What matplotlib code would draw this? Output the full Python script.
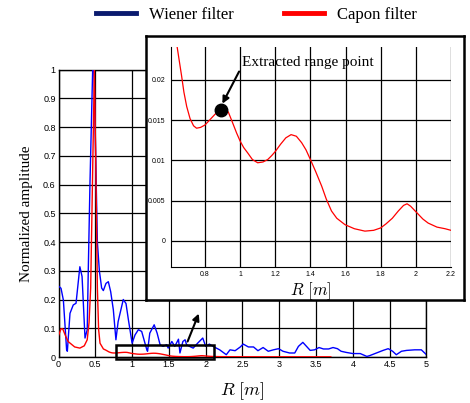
import matplotlib
matplotlib.use("Agg")
import matplotlib.pyplot as plt
from matplotlib.lines import Line2D
from matplotlib.patches import Rectangle

plt.rcParams['mathtext.fontset'] = 'cm'

# Wiener filter (blue)
wiener_r = [0, 0.034, 0.066, 0.11, 0.12, 0.156, 0.2, 0.238, 0.29, 0.32, 0.36, 0.39,
            0.405, 0.428, 0.464, 0.482, 0.505, 0.528, 0.555, 0.586, 0.609, 0.645, 0.677,
            0.709, 0.745, 0.78, 0.81, 0.88, 0.917, 0.95, 1.0, 1.04, 1.085, 1.13, 1.2,
            1.21, 1.24, 1.3, 1.34, 1.38, 1.42, 1.47, 1.49, 1.54, 1.58, 1.63, 1.65, 1.69,
            1.72, 1.74, 1.78, 1.83, 1.89, 1.96, 2.0, 2.05, 2.1, 2.19, 2.28, 2.33, 2.4,
            2.47, 2.51, 2.58, 2.65, 2.71, 2.78, 2.85, 2.92, 2.99, 3.05, 3.14, 3.21, 3.26,
            3.32, 3.37, 3.42, 3.48, 3.54, 3.6, 3.67, 3.73, 3.79, 3.84, 3.91, 4.0, 4.1,
            4.19, 4.23, 4.32, 4.41, 4.48, 4.54, 4.59, 4.66, 4.73, 4.84, 4.93, 5.0]
wiener_amp = [0.247, 0.239, 0.198, 0.025, 0.02, 0.152, 0.181, 0.187, 0.314, 0.28, 0.066, 0.095,
              0.31, 0.61, 1.0, 1.0, 0.70, 0.40, 0.30, 0.24, 0.231, 0.256, 0.262,
              0.227, 0.164, 0.06, 0.123, 0.20, 0.186, 0.129, 0.048, 0.077, 0.095, 0.089, 0.025,
              0.02, 0.083, 0.112, 0.083, 0.043, 0.037, 0.043, 0.031, 0.054, 0.037, 0.062, 0.014, 0.054,
              0.06, 0.043, 0.037, 0.031, 0.048, 0.066, 0.037, 0.045, 0.037, 0.025, 0.008, 0.025, 0.022,
              0.035, 0.045, 0.035, 0.035, 0.022, 0.033, 0.02, 0.025, 0.029, 0.02, 0.014, 0.014, 0.037,
              0.051, 0.037, 0.023, 0.025, 0.033, 0.028, 0.028, 0.033, 0.029, 0.02, 0.016, 0.012, 0.012,
              0.002, 0.005, 0.014, 0.023, 0.029, 0.02, 0.008, 0.02, 0.023, 0.025, 0.025, 0.008]

# Capon filter (red)
capon_r = [0, 0.034, 0.057, 0.09, 0.13, 0.22, 0.29, 0.35, 0.39, 0.415, 0.437, 0.46, 0.487,
           0.505, 0.528, 0.545, 0.564, 0.61,
           0.641, 0.655, 0.667, 0.68, 0.696, 0.715, 0.735, 0.752, 0.775, 0.8, 0.83, 0.86,
           0.891, 0.915, 0.933, 0.955, 0.98, 1.0, 1.02, 1.044, 1.07, 1.1, 1.13, 1.157, 1.18,
           1.2, 1.23, 1.26, 1.29, 1.32, 1.35, 1.375, 1.4, 1.43, 1.464, 1.49, 1.52, 1.55,
           1.597, 1.65, 1.71, 1.76, 1.8, 1.83, 1.866, 1.9, 1.93, 1.95, 1.97, 2.005, 2.04,
           2.07, 2.12, 2.166, 2.2, 2.3, 2.5, 2.8, 3.1, 3.4, 3.7]
capon_amp = [0.075, 0.098, 0.098, 0.077, 0.054, 0.035, 0.031, 0.039, 0.06, 0.12, 0.24, 0.587, 1.0,
             0.70, 0.24, 0.095, 0.048, 0.028,
             0.0242, 0.0222, 0.0205, 0.0185, 0.0167, 0.0152, 0.0143, 0.0140, 0.0141, 0.0144, 0.0151, 0.0158,
             0.0163, 0.0163, 0.0160, 0.0148, 0.0134, 0.0124, 0.0116, 0.0109, 0.0101, 0.0097, 0.0098, 0.0101, 0.0106,
             0.0111, 0.0120, 0.0128, 0.0132, 0.0130, 0.0122, 0.0113, 0.0101, 0.0086, 0.0068, 0.0052, 0.0037, 0.0028,
             0.0020, 0.0015, 0.0012, 0.0013, 0.0016, 0.0021, 0.0028, 0.0037, 0.0044, 0.0046, 0.0043, 0.0035, 0.0027,
             0.0022, 0.0017, 0.0015, 0.0013, 0.0011, 0.0009, 0.0008, 0.0008, 0.0007, 0.0007]

main_xticks = [0, 0.5, 1, 1.5, 2, 2.5, 3, 3.5, 4, 4.5, 5]
main_yticks = [0, 0.1, 0.2, 0.3, 0.4, 0.5, 0.6, 0.7, 0.8, 0.9, 1]
inset_xticks = [0.8, 1, 1.2, 1.4, 1.6, 1.8, 2, 2.2]
inset_yticks = [0, 0.005, 0.01, 0.015, 0.02]
peak_r, peak_amp = 0.893, 0.01624

serif = 'Liberation Serif'
tick_font = 'Liberation Sans'

fig = plt.figure(figsize=(4.7, 4.03), dpi=100)

# main plot
ax = fig.add_axes([0.1245, 0.1141, 0.7829, 0.7134])
ax.plot(wiener_r, wiener_amp, color='#0000ff', lw=1.0, zorder=3)
ax.plot(capon_r, capon_amp, color='#ff0000', lw=1.0, zorder=4)
ax.set_xlim(0, 5)
ax.set_ylim(0, 1)
ax.set_xticks(main_xticks)
ax.set_yticks(main_yticks)
ax.set_xticklabels([f'{v:g}' for v in main_xticks], fontfamily=tick_font, fontsize=6.5)
ax.set_yticklabels([f'{v:g}' for v in main_yticks], fontfamily=tick_font, fontsize=6.5)
ax.tick_params(length=0, pad=2)
ax.grid(True, color='black', lw=0.9)
for s in ax.spines.values():
    s.set_linewidth(1.0)
ax.set_xlabel(r'$R\ [m]$', fontsize=13, labelpad=8)
ax.set_ylabel('Normalized amplitude', fontfamily=serif, fontsize=11, labelpad=7)

ax.add_patch(Rectangle((0.78, -0.007), 1.33, 0.05, fill=False, ec='black', lw=1.8,
                       clip_on=False, zorder=6))
ax.annotate('', xy=(1.92, 0.16), xytext=(1.74, 0.045),
            arrowprops=dict(arrowstyle='-|>', color='black', lw=1.5, mutation_scale=10),
            zorder=6)

# framed inset
frame = fig.add_axes([0.3106, 0.2556, 0.6766, 0.6551])
frame.set_xticks([])
frame.set_yticks([])
frame.set_facecolor('white')
for s in frame.spines.values():
    s.set_linewidth(1.8)

ins = fig.add_axes([0.3632, 0.3367, 0.5964, 0.5467])
ins.plot(capon_r, capon_amp, color='#ff0000', lw=0.9)
ins.plot([peak_r], [peak_amp], 'o', color='black', ms=9)
ins.set_xlim(0.605, 2.2)
ins.set_ylim(-0.0033, 0.0241)
ins.set_xticks(inset_xticks)
ins.set_yticks(inset_yticks)
ins.set_xticklabels([f'{v:g}' for v in inset_xticks], fontfamily=tick_font, fontsize=5)
ins.set_yticklabels([f'{v:g}' for v in inset_yticks], fontfamily=tick_font, fontsize=5)
ins.tick_params(axis='x', length=0, pad=3)
ins.tick_params(axis='y', length=0, pad=4)
ins.grid(True, color='black', lw=0.9)
ins.spines['top'].set_visible(False)
ins.spines['right'].set_visible(False)
ins.set_xlabel(r'$R\ [m]$', fontsize=12, labelpad=1)
ins.annotate('Extracted range point', xy=(0.899, 0.01705), xytext=(1.01, 0.0222),
             fontfamily=serif, fontsize=11, va='center', ha='left',
             arrowprops=dict(arrowstyle='-|>', color='black', lw=1.5, mutation_scale=10,
                             relpos=(0, 0.2), shrinkA=0, shrinkB=0))

handles = [Line2D([], [], color='#0a1a6e', lw=3.5), Line2D([], [], color='#ff0000', lw=3.5)]
fig.legend(handles, ['Wiener filter', 'Capon filter'], loc='upper center',
           bbox_to_anchor=(0.545, 1.02), ncol=2, frameon=False,
           prop={'family': serif, 'size': 12}, handlelength=2.4,
           handletextpad=0.8, columnspacing=3.0)

fig.savefig('out.png', dpi=100)
